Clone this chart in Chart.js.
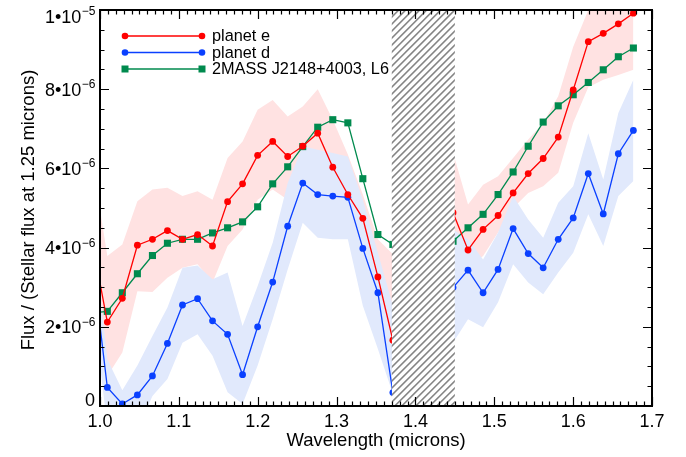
<!DOCTYPE html>
<html>
<head>
<meta charset="utf-8">
<script src="https://cdn.jsdelivr.net/npm/chart.js@4.4.1/dist/chart.umd.min.js"></script>
<style>
  html, body { margin: 0; padding: 0; background: #fff; }
  #wrap { width: 686px; height: 457px; position: relative; }
</style>
</head>
<body>
<div id="wrap"><canvas id="spec"></canvas></div>
<script>
// wavelength grid (microns); 20-22 sit under the hatched band
const wavelength = [0.9902, 1.0093, 1.0283, 1.0474, 1.0665, 1.0855, 1.1046, 1.1237, 1.1427, 1.1618,
  1.1808, 1.1999, 1.2190, 1.2380, 1.2571, 1.2761, 1.2952, 1.3143, 1.3333, 1.3524,
  1.3714, 1.3905, 1.4095, 1.4286, 1.4477, 1.4667, 1.4858, 1.5048, 1.5239, 1.5430,
  1.5620, 1.5811, 1.6001, 1.6192, 1.6382, 1.6573, 1.6764];

// flux in units of 1e-6
const planetE = [4.15, 2.12, 2.72, 4.06, 4.21, 4.43, 4.21, 4.33, 4.04, 5.16,
  5.61, 6.33, 6.68, 6.30, 6.56, 6.89, 6.03, 5.34, 4.74, 3.26,
  1.66, null, null, null, 4.88, 3.94, 4.46, 4.81, 5.38, 5.87,
  6.25, 6.79, 7.98, 9.20, 9.41, 9.65, 9.92];
const planetEUpper = [6.2, 3.79, 4.08, 5.17, 5.47, 5.51, 5.30, 5.42, 5.21, 6.26,
  6.68, 7.48, 7.73, 7.31, 7.56, 8.00, 7.23, 6.35, 5.34, 4.21,
  3.83, null, null, null, 6.4, 5.09, 5.59, 5.80, 6.26, 6.73,
  7.15, 7.82, 9.07, 10.0, 10.3, 10.5, 10.7];
const planetELower = [2.7, 0.76, 1.35, 2.90, 2.88, 3.24, 3.49, 3.58, 3.12, 4.04,
  4.46, 5.21, 5.47, 5.21, 5.47, 5.84, 4.96, 4.33, 3.83, 2.44,
  0.93, null, null, null, 3.6, 3.5, 3.79, 4.38, 5.00, 5.38,
  5.55, 5.89, 7.15, 8.05, 8.24, 8.36, 8.49];

const planetD = [3.65, 0.47, 0.05, 0.28, 0.76, 1.58, 2.55, 2.71, 2.15, 1.81,
  0.79, 2.00, 3.13, 4.54, 5.63, 5.34, 5.30, 5.27, 3.98, 2.86,
  0.34, null, null, null, 2.99, 3.43, 2.86, 3.45, 4.48, 3.85,
  3.49, 4.21, 4.75, 5.87, 4.85, 6.37, 6.96];
const planetDUpper = [4.6, 1.18, 0.40, 1.02, 1.77, 2.49, 3.49, 3.55, 3.20, 3.37,
  2.02, 3.03, 4.12, 5.63, 6.56, 6.47, 6.39, 6.30, 5.21, 3.87,
  2.53, null, null, null, 4.46, 4.21, 3.70, 4.38, 5.30, 4.71,
  4.25, 5.13, 5.55, 6.89, 5.72, 7.40, 8.24];
const planetDLower = [2.6, -0.5, -1.0, -0.6, 0.25, 0.68, 1.60, 1.81, 1.27, 0.35,
  0.05, 1.02, 2.19, 3.45, 4.63, 4.25, 4.21, 4.21, 2.53, 1.44,
  0.30, null, null, null, 1.6, 2.19, 1.99, 2.62, 3.58, 3.12,
  2.82, 3.37, 3.87, 4.84, 4.04, 5.30, 5.68];

const browDwarf = [2.35, 2.39, 2.86, 3.34, 3.80, 4.11, 4.21, 4.21, 4.37, 4.50,
  4.65, 5.03, 5.61, 6.04, 6.55, 7.04, 7.23, 7.15, 5.74, 4.33,
  4.08, null, null, null, 4.16, 4.50, 4.84, 5.34, 5.91, 6.56,
  7.17, 7.58, 7.86, 8.17, 8.49, 8.82, 9.04];

const legendLabels = ['planet e', 'planet d', '2MASS J2148+4003, L6'];
const xTicks = [1.0, 1.1, 1.2, 1.3, 1.4, 1.5, 1.6, 1.7];
const xTickLabels = ['1.0', '1.1', '1.2', '1.3', '1.4', '1.5', '1.6', '1.7'];
const yTicks = [0, 2, 4, 6, 8, 10];
const yTickBase = ['0', '2\u202210', '4\u202210', '6\u202210', '8\u202210', '1\u202210'];
const yTickExp = ['', '\u22126', '\u22126', '\u22126', '\u22126', '\u22125'];
const gapRange = [1.37, 1.45];

const FONT = '"Liberation Sans", Arial, Helvetica, sans-serif';
const RED = '#ff0000', BLUE = '#0a40ff', GREEN = '#008a4e';

function pts(arr) {
  return arr.map((v, i) => ({ x: wavelength[i], y: v }));
}

function band(arr, color, order, fill) {
  return {
    data: pts(arr), borderWidth: 0, pointRadius: 0, order: order,
    backgroundColor: color, borderColor: color, fill: fill, spanGaps: false
  };
}

function series(arr, color, style, radius) {
  return {
    data: pts(arr), borderColor: color, backgroundColor: color, borderWidth: 1.3,
    pointStyle: style, pointRadius: radius, pointBorderWidth: 0,
    pointBackgroundColor: color, fill: false, order: 0, clip: 0, spanGaps: false
  };
}

const hatchPlugin = {
  id: 'hatch',
  afterDatasetsDraw(chart) {
    const { ctx, chartArea } = chart;
    const x0 = chart.scales.x.getPixelForValue(gapRange[0]);
    const x1 = chart.scales.x.getPixelForValue(gapRange[1]);
    const top = chartArea.top, bottom = chartArea.bottom, h = bottom - top;
    ctx.save();
    ctx.beginPath();
    ctx.rect(x0, top, x1 - x0, h);
    ctx.clip();
    ctx.fillStyle = '#fff';
    ctx.fillRect(x0, top, x1 - x0, h);
    ctx.strokeStyle = '#858585';
    ctx.lineWidth = 1.6;
    for (let d = -h; d < (x1 - x0) + h; d += 7) {
      ctx.beginPath();
      ctx.moveTo(x0 + d, bottom);
      ctx.lineTo(x0 + d + h, top);
      ctx.stroke();
    }
    ctx.restore();
  }
};

function supText(ctx, base, exp, xRight, y, size) {
  ctx.font = size + 'px ' + FONT;
  const wb = ctx.measureText(base).width;
  ctx.font = Math.round(size * 0.68) + 'px ' + FONT;
  const we = exp ? ctx.measureText(exp).width : 0;
  const x = xRight - wb - we;
  ctx.font = size + 'px ' + FONT;
  ctx.textAlign = 'left';
  ctx.fillText(base, x, y);
  if (exp) {
    ctx.font = Math.round(size * 0.68) + 'px ' + FONT;
    ctx.fillText(exp, x + wb + 0.5, y - size * 0.42);
  }
}

const framePlugin = {
  id: 'frame',
  afterDraw(chart) {
    const { ctx, chartArea } = chart;
    const { left, right, top, bottom } = chartArea;
    const xs = chart.scales.x, ys = chart.scales.y;
    ctx.save();
    ctx.strokeStyle = '#000';
    ctx.fillStyle = '#000';

    // x ticks, top and bottom, pointing inwards
    ctx.lineWidth = 1.2;
    for (let k = 0; k <= 70; k++) {
      const px = Math.round(xs.getPixelForValue(1 + k / 100)) + 0.5;
      const len = k % 10 === 0 ? 9 : 4.5;
      ctx.beginPath();
      ctx.moveTo(px, bottom); ctx.lineTo(px, bottom - len);
      ctx.moveTo(px, top); ctx.lineTo(px, top + len);
      ctx.stroke();
    }
    // y ticks, left and right
    for (let k = 0; k <= 20; k++) {
      const py = Math.round(ys.getPixelForValue(k * 0.5)) + 0.5;
      const len = k % 4 === 0 ? 9 : 4.5;
      ctx.beginPath();
      ctx.moveTo(left, py); ctx.lineTo(left + len, py);
      ctx.moveTo(right, py); ctx.lineTo(right - len, py);
      ctx.stroke();
    }
    // box
    ctx.lineWidth = 2;
    ctx.strokeRect(left, top, right - left, bottom - top);

    // x tick labels
    ctx.font = '18px ' + FONT;
    ctx.textAlign = 'center';
    ctx.textBaseline = 'top';
    xTicks.forEach((v, i) => {
      ctx.fillText(xTickLabels[i], xs.getPixelForValue(v), bottom + 7);
    });
    // y tick labels
    ctx.textBaseline = 'alphabetic';
    yTicks.forEach((v, i) => {
      let y = ys.getPixelForValue(v) + 6.5;
      if (i === 0) y = bottom;
      if (i === yTicks.length - 1) y = top + 12.5;
      supText(ctx, yTickBase[i], yTickExp[i], left - 5, y, 18);
    });

    // axis titles
    ctx.font = '18.5px ' + FONT;
    ctx.textAlign = 'center';
    ctx.textBaseline = 'middle';
    ctx.fillText('Wavelength (microns)', (left + right) / 2, bottom + 35);
    ctx.save();
    ctx.translate(29, (top + bottom) / 2 + 2);
    ctx.rotate(-Math.PI / 2);
    ctx.fillText('Flux / (Stellar flux at 1.25 microns)', 0, 0);
    ctx.restore();

    // legend
    const colors = [RED, BLUE, GREEN];
    const lx0 = left + 25, lx1 = left + 102;
    ctx.font = '16.3px ' + FONT;
    ctx.textAlign = 'left';
    ctx.textBaseline = 'middle';
    legendLabels.forEach((txt, i) => {
      const ly = top + 26 + i * 16.5;
      ctx.strokeStyle = colors[i];
      ctx.fillStyle = colors[i];
      ctx.lineWidth = 1.6;
      ctx.beginPath(); ctx.moveTo(lx0, ly); ctx.lineTo(lx1, ly); ctx.stroke();
      [lx0, lx1].forEach(px => {
        ctx.beginPath();
        if (i < 2) ctx.arc(px, ly, 3.3, 0, Math.PI * 2);
        else ctx.rect(px - 3.5, ly - 3.5, 7, 7);
        ctx.fill();
      });
      ctx.fillStyle = '#000';
      ctx.fillText(txt, lx1 + 10, ly + 1);
    });
    ctx.restore();
  }
};

new Chart(document.getElementById('spec'), {
  type: 'line',
  data: {
    datasets: [
      series(planetE, RED, 'circle', 3.4),
      series(planetD, BLUE, 'circle', 3.4),
      series(browDwarf, GREEN, 'rect', 5),
      band(planetDUpper, '#e1e9fc', 1, false),
      band(planetDLower, '#e1e9fc', 1, '-1'),
      band(planetEUpper, '#ffe2e2', 2, false),
      band(planetELower, '#ffe2e2', 2, '-1')
    ]
  },
  options: {
    responsive: true,
    maintainAspectRatio: false,
    animation: false,
    layout: { padding: { left: 100, right: 34, top: 10, bottom: 51 } },
    plugins: { legend: { display: false }, tooltip: { enabled: false } },
    scales: {
      x: { type: 'linear', min: 1.0, max: 1.7, display: false },
      y: { type: 'linear', min: 0, max: 10, display: false }
    },
    elements: { line: { tension: 0 } }
  },
  plugins: [hatchPlugin, framePlugin]
});
</script>
</body>
</html>
